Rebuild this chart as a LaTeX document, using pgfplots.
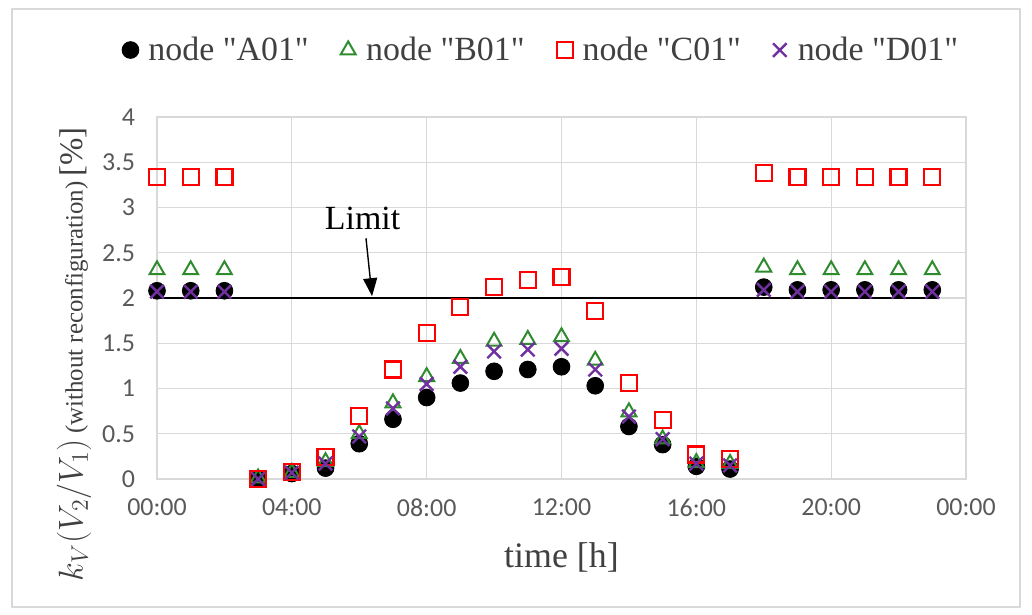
\documentclass[border=0pt]{standalone}
\usepackage{fontspec}
\setmainfont{Liberation Serif}
\newfontfamily\carlito{Carlito}
\usepackage{pgfplots}
\pgfplotsset{compat=1.18}
\usetikzlibrary{arrows.meta}
\definecolor{gridgray}{HTML}{D9D9D9}
\definecolor{ticktext}{HTML}{595959}
\definecolor{legtext}{HTML}{404040}
\definecolor{bgreen}{HTML}{2E8B2E}
\definecolor{cred}{HTML}{FF0000}
\definecolor{dpurple}{HTML}{7030A0}
\definecolor{framegray}{HTML}{D9D9D9}
\pgfplotstableread{
x A B C D
0 2.08 2.31 3.34 2.07
1 2.08 2.31 3.34 2.07
2 2.08 2.31 3.34 2.07
3 0.00 0.01 0.00 0.00
4 0.06 0.07 0.08 0.07
5 0.12 0.19 0.24 0.17
6 0.39 0.50 0.70 0.47
7 0.66 0.84 1.21 0.78
8 0.90 1.13 1.61 1.05
9 1.06 1.33 1.90 1.24
10 1.19 1.52 2.12 1.41
11 1.21 1.54 2.20 1.43
12 1.24 1.57 2.23 1.44
13 1.03 1.31 1.86 1.21
14 0.58 0.74 1.06 0.69
15 0.38 0.44 0.65 0.44
16 0.14 0.18 0.27 0.17
17 0.11 0.17 0.22 0.15
18 2.12 2.34 3.38 2.09
19 2.09 2.31 3.34 2.07
20 2.09 2.31 3.34 2.07
21 2.09 2.31 3.34 2.07
22 2.09 2.31 3.34 2.07
23 2.09 2.31 3.34 2.07
}\datatable
\begin{document}
\begin{tikzpicture}
\path[use as bounding box] (0,0) rectangle (516bp,307.5bp);
\draw[framegray, line width=1bp] (6bp,4bp) rectangle (510bp,303bp);
\begin{axis}[
  at={(78.5bp,68bp)}, anchor=south west,
  scale only axis, width=404.5bp, height=181bp,
  xmin=0, xmax=24, ymin=0, ymax=4,
  xtick={0,4,8,12,16,20,24},
  xticklabels={00:00,04:00,08:00,12:00,16:00,20:00,00:00},
  ytick={0,0.5,1,1.5,2,2.5,3,3.5,4},
  grid=major, major grid style={gridgray, line width=0.6bp},
  axis line style={gridgray, line width=0.6bp},
  major tick length=0pt,
  tick label style={font=\carlito\fontsize{13}{13}\selectfont, text=ticktext},
  /pgf/number format/assume math mode=true,
  xticklabel style={yshift=-6.5bp},
  yticklabel style={xshift=-7.5bp},
  clip=false,
  xlabel={time [h]},
  xlabel style={font=\fontsize{18}{18}\selectfont, text=legtext, at={(axis description cs:0.5,-0.218)}, anchor=center},
  ylabel={{\fontsize{17}{17}\selectfont $k_V(V_2/V_1)$} {\fontsize{12.5}{12.5}\selectfont (without reconfiguration)} {\fontsize{16.5}{16.5}\selectfont [\%]}},
  ylabel style={text=legtext, at={(axis description cs:-0.1026,0.345)}, anchor=center},
  legend style={at={(0.476,1.185)}, anchor=center, draw=none, fill=none,
    font=\fontsize{17}{17}\selectfont, text=legtext,
    /tikz/every even column/.append style={column sep=14bp}},
  legend columns=4,
  legend cell align=left,
  legend image code/.code={\path[draw=none] (-3bp,0bp) -- (7bp,0bp); \draw[#1] plot coordinates {(0bp,0bp)};},
]
\addplot[forget plot, black, line width=1.2bp] coordinates {(0,2) (23.2,2)};
\addplot[only marks, mark=*, mark size=4.2bp, black] table[x=x,y=A]{\datatable};
\addplot[only marks, mark=triangle, mark size=4.3bp, bgreen, line width=1bp] table[x=x,y=B]{\datatable};
\addplot[only marks, mark=square, mark size=4bp, cred, line width=1.1bp] table[x=x,y=C]{\datatable};
\addplot[only marks, mark=x, mark size=4.8bp, dpurple, line width=1.2bp] table[x=x,y=D]{\datatable};
\legend{node \textquotedbl A01\textquotedbl, node \textquotedbl B01\textquotedbl, node \textquotedbl C01\textquotedbl, node \textquotedbl D01\textquotedbl}
\node[font=\fontsize{17}{17}\selectfont] at (axis cs:6.1,2.88) {Limit};
\draw[-{Triangle[width=7bp,length=9bp]}, line width=0.7bp] (axis cs:6.2,2.66) -- (axis cs:6.38,2.02);
\end{axis}
\end{tikzpicture}
\end{document}
